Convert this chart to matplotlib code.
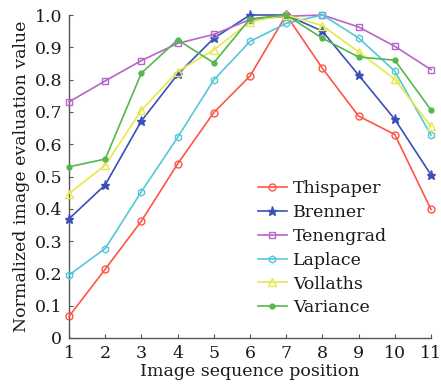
import matplotlib
matplotlib.use("Agg")
import matplotlib.pyplot as plt

positions = [1, 2, 3, 4, 5, 6, 7, 8, 9, 10, 11]
names = ["Thispaper", "Brenner", "Tenengrad", "Laplace", "Vollaths", "Variance"]
thispaper = [0.067, 0.213, 0.362, 0.539, 0.698, 0.811, 1.0, 0.835, 0.687, 0.630, 0.398]
brenner = [0.369, 0.474, 0.672, 0.816, 0.928, 1.0, 1.0, 0.950, 0.814, 0.677, 0.505]
tenengrad = [0.731, 0.796, 0.859, 0.912, 0.940, 0.986, 0.996, 1.0, 0.963, 0.903, 0.831]
laplace = [0.195, 0.277, 0.453, 0.621, 0.799, 0.918, 0.974, 1.0, 0.929, 0.826, 0.628]
vollaths = [0.447, 0.535, 0.705, 0.825, 0.892, 0.979, 1.0, 0.967, 0.886, 0.801, 0.655]
variance = [0.530, 0.554, 0.820, 0.923, 0.852, 0.988, 1.0, 0.928, 0.870, 0.860, 0.706]
yticks = [0, 0.1, 0.2, 0.3, 0.4, 0.5, 0.6, 0.7, 0.8, 0.9, 1.0]
ytick_labels = ["0", "0.1", "0.2", "0.3", "0.4", "0.5", "0.6", "0.7", "0.8", "0.9", "1.0"]

series = [thispaper, brenner, tenengrad, laplace, vollaths, variance]
colors = ["#ff5544", "#3a4fb8", "#b566c8", "#55c8d8", "#e8e84a", "#55b84c"]
markers = ["o", "*", "s", "h", "^", "o"]
msizes = [5, 6.5, 4.5, 5, 6, 3.5]
filled = [False, True, False, False, False, True]

plt.rcParams["font.family"] = ["DejaVu Serif"]
fig = plt.figure(figsize=(4.41, 3.88), dpi=100)
ax = fig.add_axes([69/441, 1-338/388, (431-69)/441, (338-15)/388])

for vals, name, c, m, ms, f in zip(series, names, colors, markers, msizes, filled):
    ax.plot(positions, vals, color=c, marker=m, markersize=ms, lw=1.2,
            markerfacecolor=c if f else "none", markeredgecolor=c,
            markeredgewidth=1.0, label=name, clip_on=False, zorder=3)

ax.set_xlim(1, 11)
ax.set_ylim(0, 1.0)
ax.set_xticks(positions)
ax.set_yticks(yticks)
ax.set_yticklabels(ytick_labels)
for s in ["top", "right"]:
    ax.spines[s].set_visible(False)
for s in ["left", "bottom"]:
    ax.spines[s].set_color("#555555")
    ax.spines[s].set_linewidth(1.0)
ax.tick_params(direction="in", length=3, width=0.8, color="#555555",
               labelsize=12.5, labelcolor="#1a1a1a", pad=5)
ax.set_xlabel("Image sequence position", fontsize=12.5, color="#1a1a1a", labelpad=1)
ax.set_ylabel("Normalized image evaluation value", fontsize=12.5, color="#1a1a1a", labelpad=3)

leg = ax.legend(loc="upper left", bbox_to_anchor=(254.5/441, 1-177/388),
                bbox_transform=fig.transFigure, frameon=False, borderaxespad=0,
                fontsize=12.5, handlelength=1.65, handletextpad=0.35,
                labelspacing=0.39, borderpad=0.2)
for t in leg.get_texts():
    t.set_color("#1a1a1a")

fig.savefig("out.png", dpi=100)
